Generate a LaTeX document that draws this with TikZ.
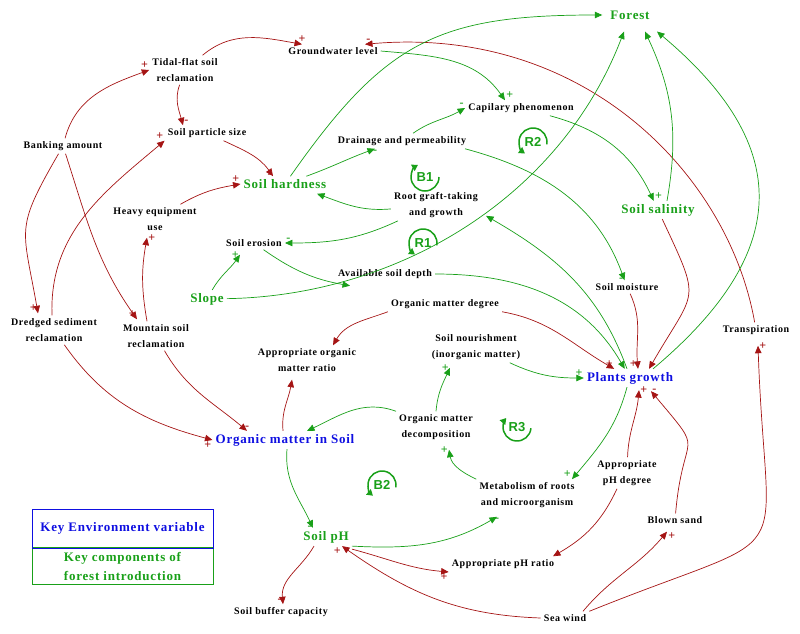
\documentclass[tikz,border=0pt]{standalone}
\usepackage{fontspec}
\setmainfont{Liberation Serif}[LetterSpace=6]
\newfontfamily\loopfont{Liberation Sans}
\usetikzlibrary{arrows.meta}
\definecolor{cldred}{RGB}{165,20,20}
\definecolor{clgreen}{RGB}{25,160,25}
\definecolor{clblue}{RGB}{15,15,225}

\begin{document}
\begin{tikzpicture}[x=1pt, y=1pt,
    cvar/.style={font=\fontsize{10}{16}\selectfont\bfseries, align=center, inner sep=3pt},
    keyvar/.style={font=\fontsize{13}{16}\selectfont\bfseries, text=clgreen, inner sep=3pt},
    envvar/.style={keyvar, text=clblue},
    redlink/.style={cldred, line width=0.7pt, -{Triangle[length=7.5pt,width=6.5pt]}},
    greenlink/.style={clgreen, line width=0.7pt, -{Triangle[length=7.5pt,width=6.5pt]}},
    rsgn/.style={text=cldred, font=\fontsize{12}{12}\selectfont\bfseries, inner sep=1pt},
    gsgn/.style={rsgn, text=clgreen},
    loopmark/.style={clgreen, line width=1.5pt, -{Triangle[length=6pt,width=7pt]}},
    looplbl/.style={text=clgreen, font=\loopfont\fontsize{13}{13}\selectfont\bfseries}]

    \useasboundingbox (0,0) rectangle (800,-634);

    \node[keyvar] (forest) at (630,-15) {Forest};
    \node[cvar] (gwl) at (333,-51) {Groundwater level};
    \node[cvar] (tidal) at (185,-70) {Tidal-flat soil\\reclamation};
    \node[cvar] (cap) at (521,-108) {Capilary phenomenon};
    \node[cvar] (psize) at (207,-133) {Soil particle size};
    \node[cvar] (bank) at (63,-146) {Banking amount};
    \node[cvar] (drain) at (402,-141) {Drainage and permeability};
    \node[keyvar] (hard) at (285,-184) {Soil hardness};
    \node[cvar] (heavy) at (155,-219) {Heavy equipment\\use};
    \node[cvar] (root) at (436,-205) {Root graft-taking\\and growth};
    \node[keyvar] (sal) at (658,-210) {Soil salinity};
    \node[cvar] (erosion) at (254,-243) {Soil erosion};
    \node[cvar] (depth) at (385,-274) {Available soil depth};
    \node[keyvar] (slope) at (207,-299) {Slope};
    \node[cvar] (moist) at (627,-287) {Soil moisture};
    \node[cvar] (omdeg) at (445,-304) {Organic matter degree};
    \node[cvar] (dredged) at (54,-330) {Dredged sediment\\reclamation};
    \node[cvar] (mount) at (156,-336) {Mountain soil\\reclamation};
    \node[cvar] (transp) at (756,-330) {Transpiration};
    \node[cvar] (nour) at (476,-347) {Soil nourishment\\(inorganic matter)};
    \node[cvar] (omratio) at (307,-360) {Appropriate organic\\matter ratio};
    \node[envvar] (plants) at (630,-378) {Plants growth};
    \node[envvar] (oms) at (285,-440) {Organic matter in Soil};
    \node[cvar] (omdec) at (436,-427) {Organic matter\\decomposition};
    \node[cvar] (metab) at (527,-495) {Metabolism of roots\\and microorganism};
    \node[cvar] (phdeg) at (627,-473) {Appropriate\\pH degree};
    \node[cvar] (blown) at (675,-520) {Blown sand};
    \node[keyvar] (ph) at (326,-537) {Soil pH};
    \node[cvar] (phratio) at (503,-564) {Appropriate pH ratio};
    \node[cvar] (sea) at (565,-618) {Sea wind};
    \node[cvar] (buffer) at (281,-612) {Soil buffer capacity};

    \draw[redlink] (bank) to[out=75, in=200] node[rsgn, at end, anchor=south east] {+} (tidal.west);
    \draw[redlink] (bank) to[out=240, in=100, looseness=1.4] node[rsgn, at end, anchor=south east] {+} ([xshift=-16pt,yshift=2pt]dredged.north);
    \draw[redlink] (bank) to[out=-72, in=125] node[rsgn, at end, anchor=south east] {+} ([xshift=-19pt,yshift=2pt]mount.north);
    \draw[redlink] (tidal) to[out=40, in=170] node[rsgn, at end, anchor=south] {+} ([xshift=-31pt]gwl.north);
    \draw[redlink] (tidal) to[out=250, in=105] node[rsgn, at end, anchor=south west] {-} ([xshift=-24pt]psize.north);
    \draw[redlink] (psize) to[out=-25, in=125] node[rsgn, at end, anchor=east] {-} ([xshift=-12pt]hard.north);
    \draw[redlink] ([xshift=-2pt]dredged.north) to[out=92, in=220] node[rsgn, at end, anchor=south east] {+} (psize.south west);
    \draw[redlink] (heavy) to[out=30, in=190] node[rsgn, at end, anchor=south east] {+} (hard.west);
    \draw[redlink] ([xshift=-9pt]mount.north) to[out=100, in=260] node[rsgn, at end, anchor=west] {+} ([xshift=-8pt,yshift=-4pt]heavy.south);
    \draw[redlink] (dredged) to[out=-55, in=165] node[rsgn, at end, anchor=north east] {+} (oms.west);
    \draw[redlink] (mount) to[out=-60, in=140] node[rsgn, at end, anchor=south] {-} ([xshift=-38pt]oms.north);
    \draw[redlink] (transp) to[out=100, in=5, out distance=150pt, in distance=220pt] node[rsgn, at end, anchor=south west] {-} ([xshift=32pt]gwl.north);

    \draw[greenlink] (gwl.east) to[out=-5, in=125] node[gsgn, at end, anchor=south west] {+} ([xshift=-16pt]cap.north);
    \draw[greenlink] (drain) to[out=35, in=210] node[gsgn, at end, anchor=south east] {-} (cap.west);
    \draw[greenlink] (cap) to[out=-15, in=115] node[gsgn, at end, anchor=south west] {+} (sal);
    \draw[greenlink] ([xshift=9pt]sal.north) to[out=80, in=-65] ([xshift=15pt,yshift=-9pt]forest.south);
    \draw[greenlink] (hard) to[out=55, in=180, looseness=1.2] ([xshift=-5pt]forest.west);
    \draw[greenlink] (hard) to[out=20, in=200] node[gsgn, at end, anchor=north] {-} ([xshift=-27pt]drain.south);
    \draw[greenlink] (root) to[out=185, in=-20] node[gsgn, at end, anchor=north west] {-} ([xshift=32pt,yshift=-2pt]hard.south);
    \draw[greenlink] ([xshift=-38pt]root.south) to[out=205, in=0] node[gsgn, at end, anchor=south west] {-} (erosion.east);
    \draw[greenlink] (slope) to[out=60, in=235] node[gsgn, at end, anchor=east] {+} ([xshift=-14pt,yshift=-5pt]erosion.south);
    \draw[greenlink] (erosion) to[out=-35, in=170] ([xshift=-35pt,yshift=-4pt]depth.south);
    \draw[greenlink] (slope) to[out=1, in=249, out distance=170pt, in distance=179pt] ([xshift=-6pt,yshift=-9pt]forest.south);
    \draw[greenlink] ([xshift=63pt]drain.south) to[out=-15, in=110] node[gsgn, at end, anchor=east] {-} (moist);
    \draw[greenlink] ([xshift=-3pt]plants.north) to[out=110, in=-30] ([xshift=5pt,yshift=5pt]root.south east);
    \draw[greenlink] (depth.east) to[out=0, in=120] (plants);

    \draw[redlink] (sal) to[out=-65, in=60, looseness=1.6] node[rsgn, at end, anchor=south west] {-} ([xshift=19pt]plants.north);
    \draw[redlink] (moist) to[out=-65, in=95] node[rsgn, at end, anchor=south east] {+} ([xshift=8pt]plants.north);
    \draw[redlink] (omdeg.south east) to[out=-10, in=150] node[rsgn, at end, anchor=south east] {+} (plants);
    \draw[redlink] (omdeg.south west) to[out=200, in=60] ([xshift=26pt]omratio.north);
    \draw[greenlink] (nour) to[out=-25, in=180] node[gsgn, at end, anchor=south east] {+} (plants.west);
    \draw[greenlink] ([xshift=23pt]plants.north) to[out=40, in=-40, out distance=180pt, in distance=180pt] ([xshift=27pt,yshift=-9pt]forest.south);
    \draw[redlink] (phdeg) to[out=88, in=-95] node[rsgn, at end, anchor=west] {+} ([xshift=9pt,yshift=-3pt]plants.south);
    \draw[redlink] (blown) to[out=85, in=-50, looseness=1.8] node[rsgn, at end, anchor=west] {-} ([xshift=21pt,yshift=-4pt]plants.south);
    \draw[greenlink] ([xshift=-3pt]plants.south) to[out=-105, in=50] node[gsgn, at end, anchor=south east] {+} ([xshift=45pt]metab.north);

    \draw[greenlink] (metab.north west) to[out=155, in=-80] node[gsgn, at end, anchor=east] {+} ([xshift=13pt,yshift=-7pt]omdec.south);
    \draw[greenlink] (omdec.north) to[out=85, in=245] node[gsgn, at end, anchor=east] {+} ([xshift=-26pt,yshift=-5pt]nour.south);
    \draw[greenlink] (omdec.north west) to[out=160, in=25] ([xshift=22pt]oms.north);
    \draw[redlink] ([xshift=-2pt]oms.north) to[out=95, in=260] ([xshift=-15pt,yshift=-5pt]omratio.south);
    \draw[greenlink] ([xshift=2pt]oms.south) to[out=-95, in=115] node[gsgn, at end, anchor=east] {-} ([xshift=-13pt]ph.north);
    \draw[greenlink] (ph.south east) to[out=-3, in=210] node[gsgn, at end, anchor=north] {-} ([xshift=-30pt,yshift=-6pt]metab.south);
    \draw[redlink] ([xshift=-12pt]ph.south) to[out=240, in=95] node[rsgn, at end, anchor=south east] {-} ([xshift=2pt]buffer.north);
    \draw[redlink] ([yshift=-3pt]ph.south east) to[out=-15, in=175] node[rsgn, at end, anchor=north east] {+} ([yshift=-8pt]phratio.west);
    \draw[redlink] ([xshift=-10pt]phdeg.south) to[out=-115, in=30] ([xshift=50pt]phratio.north);
    \draw[redlink] (sea.west) to[out=178, in=-35] node[rsgn, at end, anchor=north east] {+} ([xshift=16pt]ph.south);
    \draw[redlink] ([xshift=18pt]sea.north) to[out=50, in=230] node[rsgn, at end, anchor=north west] {+} ([xshift=-8pt,yshift=-5pt]blown.south);
    \draw[redlink] (sea.north east) to[out=22, in=-88, looseness=1.9] node[rsgn, at end, anchor=west] {+} ([xshift=2pt,yshift=-8pt]transp.south);

    \node[looplbl] (b1) at (425,-177) {B1};
    \draw[loopmark] ([shift={(0:14)}]b1.center) arc[start angle=0, end angle=-240, radius=14];
    \node[looplbl] (r2) at (533,-142) {R2};
    \draw[loopmark] ([shift={(-10:14)}]r2.center) arc[start angle=-10, end angle=235, radius=14];
    \node[looplbl] (r1) at (423,-243) {R1};
    \draw[loopmark] ([shift={(-10:14)}]r1.center) arc[start angle=-10, end angle=235, radius=14];
    \node[looplbl] (r3) at (517,-427) {R3};
    \draw[loopmark] ([shift={(-5:14)}]r3.center) arc[start angle=-5, end angle=-220, radius=14];
    \node[looplbl] (b2) at (382,-485) {B2};
    \draw[loopmark] ([shift={(-10:14)}]b2.center) arc[start angle=-10, end angle=230, radius=14];

    \node[draw=clgreen, line width=0.8pt, minimum width=181pt, minimum height=37pt, align=center,
          font=\fontsize{13}{19}\selectfont\bfseries, text=clgreen] (keyforest) at (122.5,-566) {Key components of\\forest introduction};
    \node[draw=clblue, line width=0.8pt, minimum width=181pt, minimum height=39pt,
          font=\fontsize{13}{16}\selectfont\bfseries, text=clblue] (keyenv) at (122.5,-528.5) {Key Environment variable};

\end{tikzpicture}
\end{document}
